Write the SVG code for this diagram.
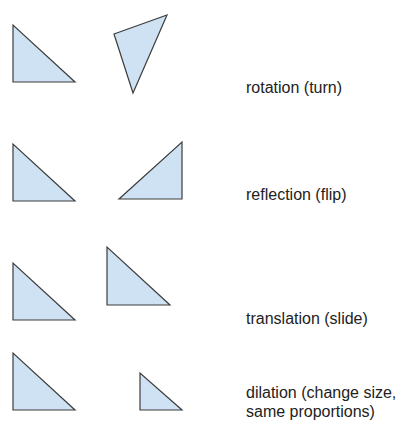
<svg xmlns="http://www.w3.org/2000/svg" width="411" height="435" viewBox="0 0 411 435">
<style>
.t{fill:#cfe2f3;stroke:#3d3d3d;stroke-width:1.2;stroke-linejoin:miter}
.l{font-family:"Liberation Sans",Arial,sans-serif;font-size:16px;fill:#222}
</style>
<rect width="411" height="435" fill="#fff"/>
<g id="rotation">
<polygon class="t" points="13,25 13,82 75,82"/>
<polygon class="t" points="114,34 167,15 133,93"/>
<text class="l" x="246" y="93">rotation (turn)</text>
</g>
<g id="reflection">
<polygon class="t" points="13,144 13,201 75,201"/>
<polygon class="t" points="182,142 182,199 119,199"/>
<text class="l" x="246" y="200">reflection (flip)</text>
</g>
<g id="translation">
<polygon class="t" points="13,263 13,320 75,320"/>
<polygon class="t" points="107,247 107,305 170,305"/>
<text class="l" x="246" y="324">translation (slide)</text>
</g>
<g id="dilation">
<polygon class="t" points="13,353 13,410 75,410"/>
<polygon class="t" points="140,373 140,410 182,410"/>
<text class="l" x="246" y="398">dilation (change size,</text>
<text class="l" x="246" y="417">same proportions)</text>
</g>
<g id="connectors"/>
</svg>
